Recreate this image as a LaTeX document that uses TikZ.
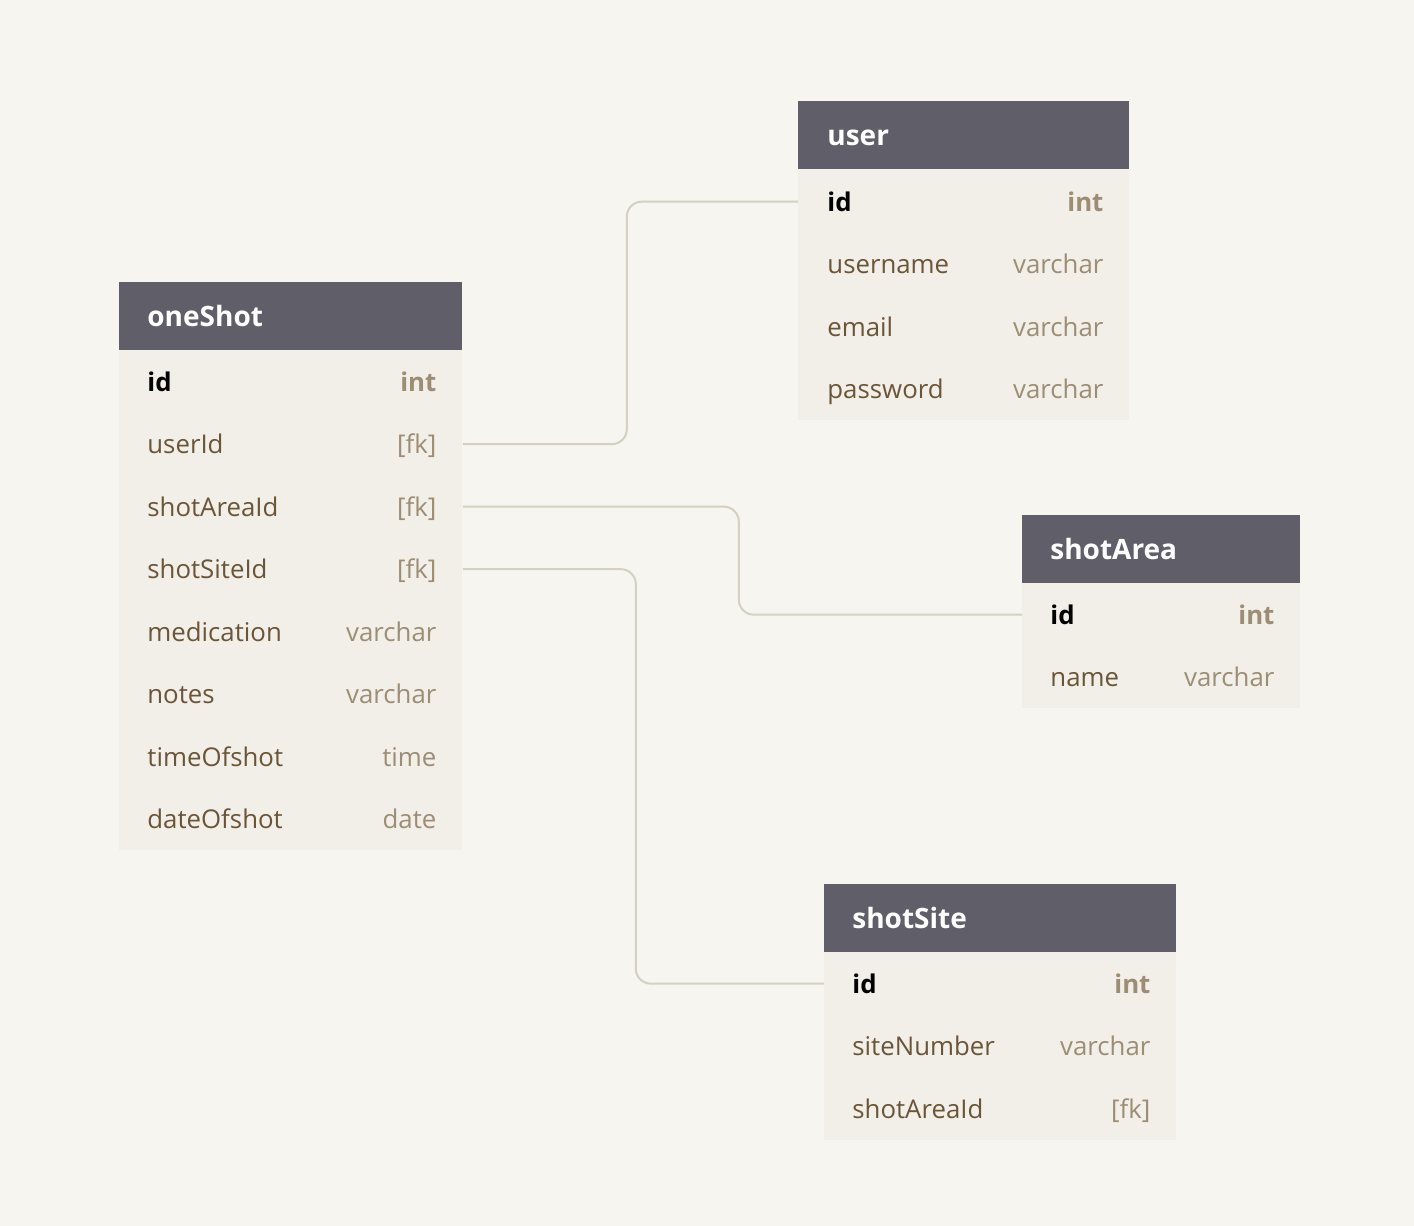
\documentclass[tikz,border=0pt]{standalone}
\usepackage{fontspec}
\setmainfont{Open Sans}
\usepackage{xcolor}
\usepackage{tikz}

\definecolor{bgpaper}{HTML}{F6F5F0}
\definecolor{headgray}{HTML}{605E68}
\definecolor{bodycream}{HTML}{F2EFE8}
\definecolor{fieldbrown}{HTML}{6B5538}
\definecolor{typetan}{HTML}{9C8D74}
\definecolor{linkline}{HTML}{D5D0BF}

\begin{document}
\begin{tikzpicture}[x=0.5pt,y=-0.5pt,
    head/.style={fill=headgray, draw=none, anchor=north west, minimum height=34pt, inner sep=0pt},
    title/.style={text=white, anchor=west, font=\bfseries\fontsize{14}{16}\selectfont, inner sep=0pt, text height=12pt, text depth=1.5pt},
    row/.style={fill=bodycream, draw=none, anchor=north west, minimum height=31.25pt, inner sep=0pt},
    field/.style={text=fieldbrown, anchor=west, font=\fontsize{12.9}{15}\selectfont, inner sep=0pt, text height=11pt, text depth=1.5pt},
    key/.style={field, text=black, font=\bfseries\fontsize{12.9}{15}\selectfont},
    type/.style={field, text=typetan, anchor=east},
    keytype/.style={type, font=\bfseries\fontsize{12.9}{15}\selectfont},
    link/.style={draw=linkline, line width=1pt, rounded corners=7.5pt}]

    \fill[bgpaper] (0,0) rectangle (1414,1226);
    \useasboundingbox (0,0) rectangle (1414,1226);

    % user
    \node[head, minimum width=165.5pt] (user) at (798,101) {};
    \node[title] (user-title) at ([xshift=14.5pt]user.west) {user};
    \node[row, minimum width=165.5pt] (user-id) at (798,170) {};
    \node[row, minimum width=165.5pt] (user-username) at (798,232.5) {};
    \node[row, minimum width=165.5pt] (user-email) at (798,295) {};
    \node[row, minimum width=165.5pt] (user-password) at (798,357.5) {};
    \node[key] (user-id-n) at ([xshift=14.5pt]user-id.west) {id};
    \node[keytype] (user-id-t) at ([xshift=-13pt]user-id.east) {int};
    \node[field] (user-username-n) at ([xshift=14.5pt]user-username.west) {username};
    \node[type] (user-username-t) at ([xshift=-13pt]user-username.east) {varchar};
    \node[field] (user-email-n) at ([xshift=14.5pt]user-email.west) {email};
    \node[type] (user-email-t) at ([xshift=-13pt]user-email.east) {varchar};
    \node[field] (user-password-n) at ([xshift=14.5pt]user-password.west) {password};
    \node[type] (user-password-t) at ([xshift=-13pt]user-password.east) {varchar};

    % oneShot
    \node[head, minimum width=171.5pt] (oneShot) at (119,282) {};
    \node[title] (oneShot-title) at ([xshift=14pt]oneShot.west) {oneShot};
    \node[row, minimum width=171.5pt] (oneShot-id) at (119,350) {};
    \node[row, minimum width=171.5pt] (oneShot-userId) at (119,412.5) {};
    \node[row, minimum width=171.5pt] (oneShot-shotAreaId) at (119,475) {};
    \node[row, minimum width=171.5pt] (oneShot-shotSiteId) at (119,537.5) {};
    \node[row, minimum width=171.5pt] (oneShot-medication) at (119,600) {};
    \node[row, minimum width=171.5pt] (oneShot-notes) at (119,662.5) {};
    \node[row, minimum width=171.5pt] (oneShot-timeOfshot) at (119,725) {};
    \node[row, minimum width=171.5pt] (oneShot-dateOfshot) at (119,787.5) {};
    \node[key] (oneShot-id-n) at ([xshift=14pt]oneShot-id.west) {id};
    \node[keytype] (oneShot-id-t) at ([xshift=-13pt]oneShot-id.east) {int};
    \node[field] (oneShot-userId-n) at ([xshift=14pt]oneShot-userId.west) {userId};
    \node[type] (oneShot-userId-t) at ([xshift=-13pt]oneShot-userId.east) {[fk]};
    \node[field] (oneShot-shotAreaId-n) at ([xshift=14pt]oneShot-shotAreaId.west) {shotAreaId};
    \node[type] (oneShot-shotAreaId-t) at ([xshift=-13pt]oneShot-shotAreaId.east) {[fk]};
    \node[field] (oneShot-shotSiteId-n) at ([xshift=14pt]oneShot-shotSiteId.west) {shotSiteId};
    \node[type] (oneShot-shotSiteId-t) at ([xshift=-13pt]oneShot-shotSiteId.east) {[fk]};
    \node[field] (oneShot-medication-n) at ([xshift=14pt]oneShot-medication.west) {medication};
    \node[type] (oneShot-medication-t) at ([xshift=-13pt]oneShot-medication.east) {varchar};
    \node[field] (oneShot-notes-n) at ([xshift=14pt]oneShot-notes.west) {notes};
    \node[type] (oneShot-notes-t) at ([xshift=-13pt]oneShot-notes.east) {varchar};
    \node[field] (oneShot-timeOfshot-n) at ([xshift=14pt]oneShot-timeOfshot.west) {timeOfshot};
    \node[type] (oneShot-timeOfshot-t) at ([xshift=-13pt]oneShot-timeOfshot.east) {time};
    \node[field] (oneShot-dateOfshot-n) at ([xshift=14pt]oneShot-dateOfshot.west) {dateOfshot};
    \node[type] (oneShot-dateOfshot-t) at ([xshift=-13pt]oneShot-dateOfshot.east) {date};

    % shotArea
    \node[head, minimum width=139pt] (shotArea) at (1022,515) {};
    \node[title] (shotArea-title) at ([xshift=14pt]shotArea.west) {shotArea};
    \node[row, minimum width=139pt] (shotArea-id) at (1022,583) {};
    \node[row, minimum width=139pt] (shotArea-name) at (1022,645.5) {};
    \node[key] (shotArea-id-n) at ([xshift=14pt]shotArea-id.west) {id};
    \node[keytype] (shotArea-id-t) at ([xshift=-13pt]shotArea-id.east) {int};
    \node[field] (shotArea-name-n) at ([xshift=14pt]shotArea-name.west) {name};
    \node[type] (shotArea-name-t) at ([xshift=-13pt]shotArea-name.east) {varchar};

    % shotSite
    \node[head, minimum width=176pt] (shotSite) at (824,884) {};
    \node[title] (shotSite-title) at ([xshift=14pt]shotSite.west) {shotSite};
    \node[row, minimum width=176pt] (shotSite-id) at (824,952) {};
    \node[row, minimum width=176pt] (shotSite-siteNumber) at (824,1014.5) {};
    \node[row, minimum width=176pt] (shotSite-shotAreaId) at (824,1077) {};
    \node[key] (shotSite-id-n) at ([xshift=14pt]shotSite-id.west) {id};
    \node[keytype] (shotSite-id-t) at ([xshift=-13pt]shotSite-id.east) {int};
    \node[field] (shotSite-siteNumber-n) at ([xshift=14pt]shotSite-siteNumber.west) {siteNumber};
    \node[type] (shotSite-siteNumber-t) at ([xshift=-13pt]shotSite-siteNumber.east) {varchar};
    \node[field] (shotSite-shotAreaId-n) at ([xshift=14pt]shotSite-shotAreaId.west) {shotAreaId};
    \node[type] (shotSite-shotAreaId-t) at ([xshift=-13pt]shotSite-shotAreaId.east) {[fk]};

    % links
    \draw[link] (oneShot-userId.east) -- ++(164,0) |- (user-id.west);
    \draw[link] (oneShot-shotAreaId.east) -- ++(276,0) |- (shotArea-id.west);
    \draw[link] (oneShot-shotSiteId.east) -- ++(173,0) |- (shotSite-id.west);
\end{tikzpicture}
\end{document}
